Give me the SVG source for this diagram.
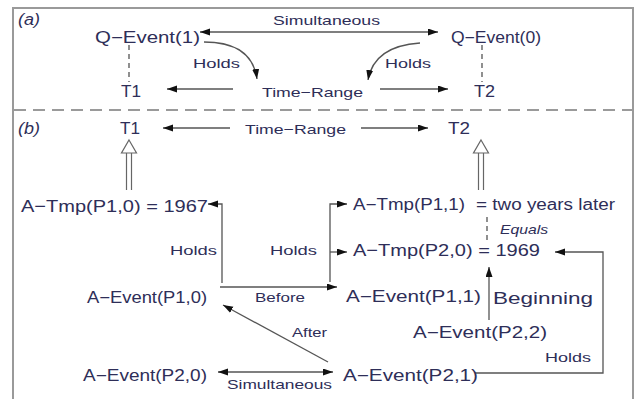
<svg xmlns="http://www.w3.org/2000/svg" width="638" height="399" viewBox="0 0 638 399">
<style>
text{font-family:"Liberation Sans",Arial,sans-serif;fill:#2e2e58}
.s{font-size:13px}
.m{font-size:16px}
.l{font-size:17px}
.i{font-style:italic}
.c{fill:none;stroke:#555;stroke-width:1.3}
.d{fill:none;stroke:#555;stroke-width:1.3;stroke-dasharray:5 4}
.h{fill:#fff;stroke:#666;stroke-width:1.2}
</style>
<defs>
<marker id="ah" markerUnits="userSpaceOnUse" markerWidth="11" markerHeight="8" refX="10" refY="3.5" orient="auto-start-reverse">
<path d="M0,0 L10,3.5 L0,7 z" fill="#111"/>
</marker>
</defs>
<rect width="638" height="399" fill="#fff"/>
<rect x="13" y="8" width="620" height="400" fill="none" stroke="#9a9a9a" stroke-width="2"/>
<line x1="14" y1="110" x2="632" y2="110" stroke="#9a9a9a" stroke-width="2" stroke-dasharray="12 7"/>

<text class="m i" x="18" y="25" textLength="22" lengthAdjust="spacingAndGlyphs">(a)</text>
<text class="m i" x="18" y="134" textLength="22" lengthAdjust="spacingAndGlyphs">(b)</text>

<g id="connectors">
<path class="c" d="M200,32 L438,32" marker-start="url(#ah)" marker-end="url(#ah)"/>
<path class="c" d="M204,42 Q252,42 257,79" marker-end="url(#ah)"/>
<path class="c" d="M420,43 Q374,46 368,80" marker-end="url(#ah)"/>
<path class="c" d="M233,89 L167,89" marker-end="url(#ah)"/>
<path class="c" d="M380,89 L448,89" marker-end="url(#ah)"/>
<path class="d" d="M129,45 L129,82"/>
<path class="d" d="M482,45 L482,82"/>

<path class="c" d="M230,128 L163,128" marker-end="url(#ah)"/>
<path class="c" d="M361,128 L428,128" marker-end="url(#ah)"/>
<g>
<line x1="126.5" y1="153" x2="126.5" y2="190" stroke="#666" stroke-width="1.2"/>
<line x1="131.5" y1="153" x2="131.5" y2="190" stroke="#666" stroke-width="1.2"/>
<path class="h" d="M129,140 L136.5,153 L121.5,153 z"/>
</g>
<g>
<line x1="478.5" y1="153" x2="478.5" y2="190" stroke="#666" stroke-width="1.2"/>
<line x1="483.5" y1="153" x2="483.5" y2="190" stroke="#666" stroke-width="1.2"/>
<path class="h" d="M481,140 L488.5,153 L473.5,153 z"/>
</g>
<path class="c" d="M222,283 L222,204 L208,204" marker-end="url(#ah)"/>
<path class="c" d="M220,287 L337,287" marker-end="url(#ah)"/>
<path class="c" d="M330,282 L330,204 L347,204" marker-end="url(#ah)"/>
<path class="c" d="M330,252 L347,252" marker-end="url(#ah)"/>
<path class="d" d="M487,217 L487,243"/>
<path class="c" d="M489,320 L489,267" marker-end="url(#ah)"/>
<path class="c" d="M475,373 L603,373 L603,252 L555,252" marker-end="url(#ah)"/>
<path class="c" d="M328,362 L223,305" marker-end="url(#ah)"/>
<path class="c" d="M218,372 L333,372" marker-start="url(#ah)" marker-end="url(#ah)"/>
</g>

<g id="edge-labels">
<text class="s" x="273" y="25" textLength="107" lengthAdjust="spacingAndGlyphs">Simultaneous</text>
<text class="s" x="193" y="68" textLength="47" lengthAdjust="spacingAndGlyphs">Holds</text>
<text class="s" x="385" y="68" textLength="46" lengthAdjust="spacingAndGlyphs">Holds</text>
<text class="s" x="170" y="255" textLength="47" lengthAdjust="spacingAndGlyphs">Holds</text>
<text class="s" x="270" y="255" textLength="47" lengthAdjust="spacingAndGlyphs">Holds</text>
<text class="s i" x="500" y="234" textLength="48" lengthAdjust="spacingAndGlyphs">Equals</text>
<text class="s" x="255" y="302" textLength="50" lengthAdjust="spacingAndGlyphs">Before</text>
<text class="s" x="292" y="337" textLength="35" lengthAdjust="spacingAndGlyphs">After</text>
<text class="s" x="545" y="362" textLength="46" lengthAdjust="spacingAndGlyphs">Holds</text>
<text class="s" x="227" y="389" textLength="105" lengthAdjust="spacingAndGlyphs">Simultaneous</text>
</g>

<g id="q-event-1"><text class="m" x="95" y="43" textLength="105" lengthAdjust="spacingAndGlyphs">Q−Event(1)</text></g>
<g id="q-event-0"><text class="m" x="451" y="43" textLength="90" lengthAdjust="spacingAndGlyphs">Q−Event(0)</text></g>
<g id="a-t1"><text class="m" x="121" y="97" textLength="20" lengthAdjust="spacingAndGlyphs">T1</text></g>
<g id="a-time-range"><text class="s" x="262" y="97" textLength="101" lengthAdjust="spacingAndGlyphs">Time−Range</text></g>
<g id="a-t2"><text class="m" x="474" y="97" textLength="21" lengthAdjust="spacingAndGlyphs">T2</text></g>

<g id="b-t1"><text class="m" x="120" y="134" textLength="20" lengthAdjust="spacingAndGlyphs">T1</text></g>
<g id="b-time-range"><text class="s" x="245" y="134" textLength="101" lengthAdjust="spacingAndGlyphs">Time−Range</text></g>
<g id="b-t2"><text class="m" x="448" y="134" textLength="22" lengthAdjust="spacingAndGlyphs">T2</text></g>

<g id="a-tmp-p1-0"><text class="l" x="21" y="212" textLength="187" lengthAdjust="spacingAndGlyphs">A−Tmp(P1,0) = 1967</text></g>
<g id="a-tmp-p1-1">
<text class="m" x="353" y="210" textLength="112" lengthAdjust="spacingAndGlyphs">A−Tmp(P1,1)</text>
<text class="m" x="476" y="210" textLength="139" lengthAdjust="spacingAndGlyphs">= two years later</text>
</g>
<g id="a-tmp-p2-0"><text class="l" x="353" y="256" textLength="187" lengthAdjust="spacingAndGlyphs">A−Tmp(P2,0) = 1969</text></g>
<g id="a-event-p1-0"><text class="m" x="87" y="303" textLength="120" lengthAdjust="spacingAndGlyphs">A−Event(P1,0)</text></g>
<g id="a-event-p1-1"><text class="m" x="346" y="302" textLength="135" lengthAdjust="spacingAndGlyphs">A−Event(P1,1)</text></g>
<g id="beginning"><text class="l" x="493" y="304" textLength="100" lengthAdjust="spacingAndGlyphs">Beginning</text></g>
<g id="a-event-p2-2"><text class="m" x="413" y="338" textLength="134" lengthAdjust="spacingAndGlyphs">A−Event(P2,2)</text></g>
<g id="a-event-p2-0"><text class="m" x="83" y="381" textLength="124" lengthAdjust="spacingAndGlyphs">A−Event(P2,0)</text></g>
<g id="a-event-p2-1"><text class="m" x="343" y="381" textLength="135" lengthAdjust="spacingAndGlyphs">A−Event(P2,1)</text></g>
</svg>
